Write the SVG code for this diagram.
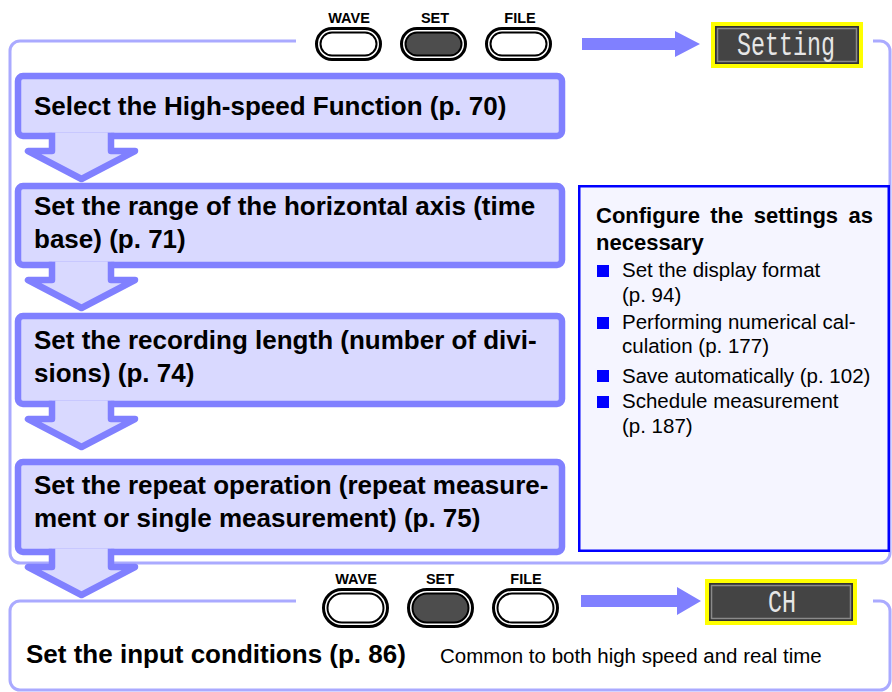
<svg xmlns="http://www.w3.org/2000/svg" width="892" height="692" viewBox="0 0 892 692">
<style>
.frame{fill:none;stroke:#aaaaff;stroke-width:3}
.box{fill:#d9d9ff;stroke:#8080ff;stroke-width:6.5;stroke-linejoin:round}
.dn{fill:#d9d9ff;stroke:#8080ff;stroke-width:6.5;stroke-linejoin:round;stroke-linecap:butt}
.bt{font-family:"Liberation Sans",Arial,sans-serif;font-weight:bold;font-size:26px;fill:#000}
.lbl{font-family:"Liberation Sans",Arial,sans-serif;font-weight:bold;font-size:14.5px;fill:#000;text-anchor:middle}
.bo{stroke:#000;stroke-width:3;fill:#fff}
.bi{stroke:#000;stroke-width:2;fill:#fff}
.bis{stroke:#000;stroke-width:2;fill:#4d4d4d}
.harrow{fill:#8080ff}
.disp{font-family:"Liberation Mono","DejaVu Sans Mono",monospace;fill:#e6e6e6;text-anchor:middle}
.ph{font-family:"Liberation Sans",Arial,sans-serif;font-weight:bold;font-size:22px;fill:#000}
.pt{font-family:"Liberation Sans",Arial,sans-serif;font-size:20.5px;fill:#000}
.bul{fill:#0000ff}
</style>

<g id="frames">
<path class="frame" d="M296,41 H20 A10,10 0 0 0 10,51 V553 A10,10 0 0 0 20,563 H880 A10,10 0 0 0 890,553 V51 A10,10 0 0 0 880,41 H873"/>
<path class="frame" d="M296,601 H20 A10,10 0 0 0 10,611 V680 A10,10 0 0 0 20,690 H880 A10,10 0 0 0 890,680 V611 A10,10 0 0 0 880,601 H873"/>
</g>

<g id="buttons-top">
<text class="lbl" x="349" y="23">WAVE</text>
<text class="lbl" x="435" y="23">SET</text>
<text class="lbl" x="520" y="23">FILE</text>
<rect class="bo" x="316.5" y="28.5" width="64" height="31" rx="15.5"/>
<rect class="bi" x="320.5" y="32.5" width="56" height="23" rx="11.5"/>
<rect class="bo" x="401.5" y="28.5" width="64" height="31" rx="15.5"/>
<rect class="bis" x="405.5" y="32.5" width="56" height="23" rx="11.5"/>
<rect class="bo" x="486.5" y="28.5" width="64" height="31" rx="15.5"/>
<rect class="bi" x="490.5" y="32.5" width="56" height="23" rx="11.5"/>
</g>

<g id="display-setting">
<rect x="711" y="22" width="152" height="46" fill="#ffff00"/>
<rect x="715" y="26" width="144" height="38" fill="#333"/>
<rect x="717.5" y="28.5" width="139" height="33" fill="#444" stroke="#8a8a8a" stroke-width="1.5"/>
<text class="disp" x="786" y="55" font-size="34" textLength="98" lengthAdjust="spacingAndGlyphs">Setting</text>
</g>

<g id="step1">
<rect class="box" x="18" y="76" width="544" height="60" rx="5"/>
<text class="bt" x="34" y="115">Select the High-speed Function (p. 70)</text>
</g>
<g id="step2">
<rect class="box" x="18" y="186" width="544" height="79" rx="5"/>
<text class="bt" x="34" y="215">Set the range of the horizontal axis (time</text>
<text class="bt" x="34" y="248">base) (p. 71)</text>
</g>
<g id="step3">
<rect class="box" x="18" y="316" width="544" height="88" rx="5"/>
<text class="bt" x="34" y="349">Set the recording length (number of divi-</text>
<text class="bt" x="34" y="382">sions) (p. 74)</text>
</g>
<g id="step4">
<rect class="box" x="18" y="462" width="544" height="90" rx="5"/>
<text class="bt" x="34" y="494">Set the repeat operation (repeat measure-</text>
<text class="bt" x="34" y="527">ment or single measurement) (p. 75)</text>
</g>

<g id="options-panel">
<rect x="579.25" y="186.25" width="309.5" height="364.5" fill="#f5f5ff" stroke="#0000ff" stroke-width="2.5"/>
<text class="ph" x="596" y="223" word-spacing="4.3">Configure the settings as</text>
<text class="ph" x="596" y="250">necessary</text>
<rect class="bul" x="597" y="265" width="12" height="12"/>
<text class="pt" x="622" y="277">Set the display format</text>
<text class="pt" x="622" y="302">(p. 94)</text>
<rect class="bul" x="597" y="317" width="12" height="12"/>
<text class="pt" x="622" y="329">Performing numerical cal-</text>
<text class="pt" x="622" y="353">culation (p. 177)</text>
<rect class="bul" x="597" y="370" width="12" height="12"/>
<text class="pt" x="622" y="383">Save automatically (p. 102)</text>
<rect class="bul" x="597" y="396" width="12" height="12"/>
<text class="pt" x="622" y="408">Schedule measurement</text>
<text class="pt" x="622" y="433">(p. 187)</text>
</g>

<g id="buttons-bottom">
<text class="lbl" x="356" y="584">WAVE</text>
<text class="lbl" x="440" y="584">SET</text>
<text class="lbl" x="526" y="584">FILE</text>
<rect class="bo" x="323.5" y="589.5" width="64" height="37" rx="18.5"/>
<rect class="bi" x="327.5" y="593.5" width="56" height="29" rx="14.5"/>
<rect class="bo" x="408.5" y="589.5" width="64" height="37" rx="18.5"/>
<rect class="bis" x="412.5" y="593.5" width="56" height="29" rx="14.5"/>
<rect class="bo" x="493.5" y="589.5" width="64" height="37" rx="18.5"/>
<rect class="bi" x="497.5" y="593.5" width="56" height="29" rx="14.5"/>
</g>

<g id="display-ch">
<rect x="705" y="579" width="152" height="46" fill="#ffff00"/>
<rect x="709" y="583" width="144" height="38" fill="#333"/>
<rect x="711.5" y="585.5" width="139" height="33" fill="#444" stroke="#8a8a8a" stroke-width="1.5"/>
<text class="disp" x="782" y="612" font-size="32" textLength="28" lengthAdjust="spacingAndGlyphs">CH</text>
</g>

<g id="step5">
<text class="bt" x="26" y="663">Set the input conditions (p. 86)</text>
<text class="pt" x="440" y="663" font-size="22">Common to both high speed and real time</text>
</g>

<g id="connectors">
<path class="dn" d="M111,132.75 V151 H135 L81.5,179 L28,151 H52 V132.75"/>
<path class="dn" d="M111,261.75 V280 H135 L81.5,308 L28,280 H52 V261.75"/>
<path class="dn" d="M111,400.75 V419 H135 L81.5,447 L28,419 H52 V400.75"/>
<path class="dn" d="M111,548.75 V567 H135 L81.5,595 L28,567 H52 V548.75"/>
<polygon class="harrow" points="582,38 675,38 675,31 700,44 675,57 675,50 582,50"/>
<polygon class="harrow" points="581,595 677,595 677,587 701,601 677,615 677,607 581,607"/>
</g>
</svg>
